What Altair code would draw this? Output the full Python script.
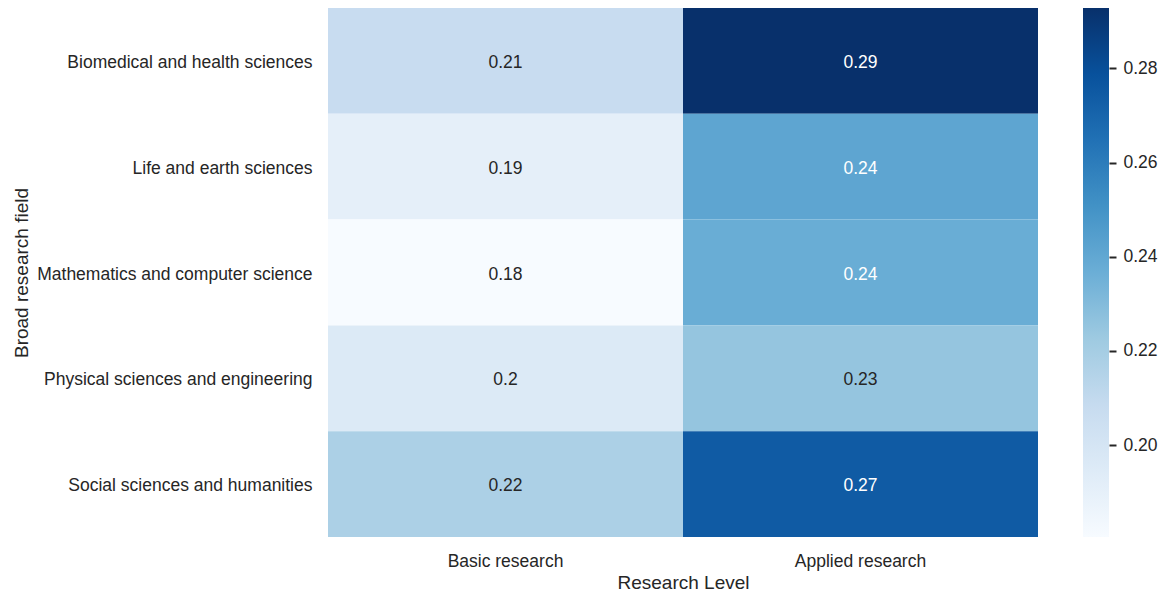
import altair as alt
import pandas as pd

# Mean scores by broad research field and research level
fields = [
    "Biomedical and health sciences",
    "Life and earth sciences",
    "Mathematics and computer science",
    "Physical sciences and engineering",
    "Social sciences and humanities",
]
levels = ["Basic research", "Applied research"]
basic_values = [0.2076, 0.1908, 0.1805, 0.1955, 0.2177]
applied_values = [0.2928, 0.2412, 0.2373, 0.2252, 0.2745]

rows = []
for f, b, a in zip(fields, basic_values, applied_values):
    rows.append({"field": f, "level": levels[0], "value": b})
    rows.append({"field": f, "level": levels[1], "value": a})
df = pd.DataFrame(rows)

all_values = basic_values + applied_values
vmin, vmax = min(all_values), max(all_values)

# ColorBrewer Blues ramp, spread linearly over the data range
blues = ["#f7fbff", "#deebf7", "#c6dbef", "#9ecae1", "#6baed6",
         "#4292c6", "#2171b5", "#08519c", "#08306b"]
stops = [vmin + i * (vmax - vmin) / 8 for i in range(9)]
color_scale = alt.Scale(domain=stops, range=blues, interpolate="rgb")

FONT = "Liberation Sans"
TXT = "#262626"
LABEL_SIZE = 17.5
TITLE_SIZE = 19

base = alt.Chart(df)

cells = base.mark_rect().encode(
    x=alt.X("level:N", sort=levels, title="Research Level",
            axis=alt.Axis(labelAngle=0, ticks=False, domain=False,
                          labelPadding=15, titlePadding=4)),
    y=alt.Y("field:N", sort=fields, title="Broad research field",
            axis=alt.Axis(ticks=False, domain=False, labelPadding=16,
                          labelOffset=2, labelLimit=400,
                          titleX=-307, titleBaseline="middle")),
    color=alt.Color("value:Q", scale=color_scale, legend=None),
)

labels = base.mark_text(font=FONT, fontSize=LABEL_SIZE, dy=2).encode(
    x=alt.X("level:N", sort=levels),
    y=alt.Y("field:N", sort=fields),
    text=alt.Text("value:Q", format=".2~g"),
    color=alt.condition(alt.datum.value >= 0.235, alt.value("white"), alt.value(TXT)),
)

heat = (cells + labels).properties(width=710, height=529)

# Colour bar: one rect spanning the data range, filled with the same ramp
bar_df = pd.DataFrame({"lo": [vmin], "hi": [vmax]})
gradient = {
    "gradient": "linear",
    "x1": 0, "y1": 1, "x2": 0, "y2": 0,
    "stops": [{"offset": i / 8, "color": c} for i, c in enumerate(blues)],
}
colorbar = alt.Chart(bar_df).mark_rect(fill=gradient).encode(
    y=alt.Y("lo:Q", scale=alt.Scale(domain=[vmin, vmax], nice=False, zero=False),
            title=None,
            axis=alt.Axis(orient="right", values=[0.20, 0.22, 0.24, 0.26, 0.28],
                          format=".2f", domain=False, tickSize=7, tickWidth=2,
                          tickColor=TXT, labelPadding=7, grid=False)),
    y2="hi:Q",
).properties(width=26, height=529)

chart = alt.hconcat(heat, colorbar, spacing=45).properties(
    padding={"left": 12, "top": 8, "right": 5, "bottom": 5}
).configure_view(stroke=None).configure_axis(
    labelFont=FONT, titleFont=FONT, labelFontSize=LABEL_SIZE, titleFontSize=TITLE_SIZE,
    labelColor=TXT, titleColor=TXT, titleFontWeight="normal",
)

chart.save("out.html", embed_options={"renderer": "svg", "actions": False})
